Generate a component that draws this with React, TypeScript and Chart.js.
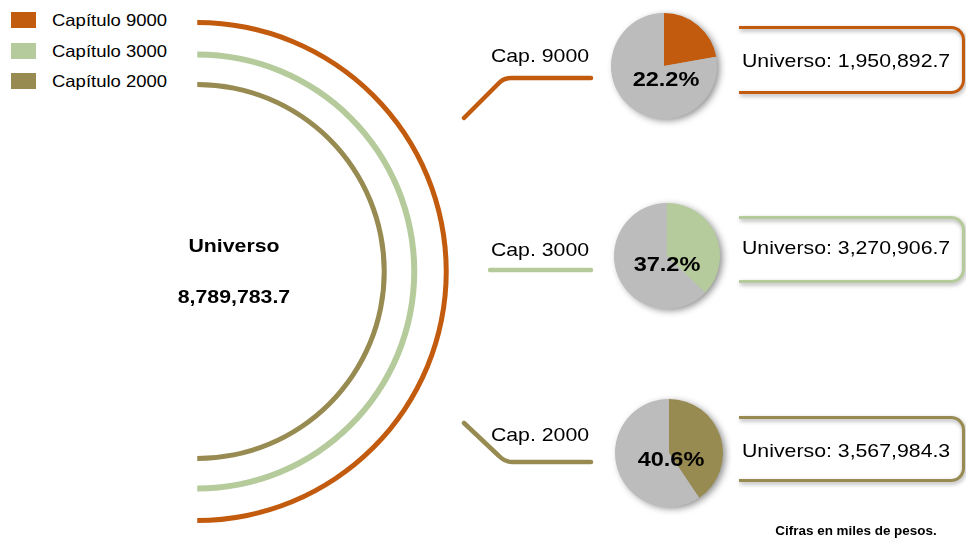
import React, { useEffect, useRef } from 'react';
import { Chart, registerables } from 'chart.js';

Chart.register(...registerables);

// ---------- data ----------
const chapterNames = ['Capítulo 9000', 'Capítulo 3000', 'Capítulo 2000'];
const capLabels = ['Cap. 9000', 'Cap. 3000', 'Cap. 2000'];
const universoValues = [1950892.7, 3270906.7, 3567984.3];
const universoTotal = 8789783.7;
const sharePct = [22.2, 37.2, 40.6];
const chapterColors = ['#C25B0E', '#B5CB9B', '#978B52'];
const remainderColor = '#BCBCBC';
const totalTitle = 'Universo';
const footnote = 'Cifras en miles de pesos.';

// ---------- layout ----------
const FONT = '"Liberation Sans", Arial, Helvetica, sans-serif';
const SX = 1.12;
const ringWidths = [5, 6, 5];
const ringGaps = [26.5, 24.5];
const ringInner = 184.5;
const ringOuter = 251.5;
const pieBoxes = [
  { left: 601, top: 3, size: 126, pad: 10 },
  { left: 604, top: 193, size: 126, pad: 10 },
  { left: 606, top: 390, size: 126, pad: 9 },
];
const capLabelY = [55, 249, 434];
const pctPos = [
  [666, 78],
  [667, 263],
  [671, 458],
];
const bracketBoxes = [
  { top: 26, height: 68, textY: 60 },
  { top: 216, height: 67, textY: 247 },
  { top: 416, height: 66, textY: 450 },
];
const connectorPaths = [
  'M464,118 L499,83 Q504,78 511,78 L591,78',
  'M490,270 L591,270',
  'M464,423 L499,456 Q505,462 512,462 L591,462',
];

const fmt = (v: number) =>
  v.toLocaleString('en-US', { minimumFractionDigits: 1, maximumFractionDigits: 1 });

function Label(props: {
  x: number;
  y: number;
  text: string;
  size: number;
  bold?: boolean;
  align?: 'left' | 'center';
}) {
  const { x, y, text, size, bold, align = 'left' } = props;
  const center = align === 'center';
  return (
    <div
      style={{
        position: 'absolute',
        left: x,
        top: y,
        transform: `translate(${center ? '-50%' : '0'}, -50%) scaleX(${SX})`,
        transformOrigin: center ? 'center center' : 'left center',
        whiteSpace: 'nowrap',
        fontSize: size,
        lineHeight: 1,
        fontWeight: bold ? 'bold' : 'normal',
        color: '#000',
        fontFamily: FONT,
      }}
    >
      {text}
    </div>
  );
}

function ArcsChart() {
  const ref = useRef<HTMLCanvasElement>(null);
  useEffect(() => {
    if (!ref.current) return;
    const datasets: any[] = [];
    chapterNames.forEach((name, i) => {
      datasets.push({
        label: name,
        data: [1],
        backgroundColor: chapterColors[i],
        borderWidth: 0,
        weight: ringWidths[i],
      });
      if (i < ringGaps.length) {
        datasets.push({
          label: 'gap' + i,
          data: [1],
          backgroundColor: 'rgba(0,0,0,0)',
          borderWidth: 0,
          weight: ringGaps[i],
        });
      }
    });
    const chart = new Chart(ref.current, {
      type: 'doughnut',
      data: { labels: [totalTitle], datasets },
      options: {
        responsive: false,
        animation: false,
        events: [],
        circumference: 180,
        rotation: 0,
        cutout: (ringInner / ringOuter) * 100 + '%',
        layout: { padding: 0 },
        plugins: { legend: { display: false }, tooltip: { enabled: false } },
      },
    });
    return () => chart.destroy();
  }, []);
  return (
    <canvas
      ref={ref}
      width={252}
      height={503}
      style={{ position: 'absolute', left: 197, top: 20 }}
    />
  );
}

const pieShadow = {
  id: 'pieShadow',
  beforeDatasetsDraw(chart: any) {
    const arc: any = chart.getDatasetMeta(0).data[0];
    if (!arc) return;
    const ctx = chart.ctx;
    ctx.save();
    ctx.shadowColor = 'rgba(0,0,0,0.45)';
    ctx.shadowBlur = 7;
    ctx.shadowOffsetX = 3;
    ctx.shadowOffsetY = 2;
    ctx.fillStyle = remainderColor;
    ctx.beginPath();
    ctx.arc(arc.x, arc.y, arc.outerRadius - 0.5, 0, Math.PI * 2);
    ctx.fill();
    ctx.restore();
  },
};

function SharePie({ index }: { index: number }) {
  const ref = useRef<HTMLCanvasElement>(null);
  const box = pieBoxes[index];
  useEffect(() => {
    if (!ref.current) return;
    const chart = new Chart(ref.current, {
      type: 'pie',
      data: {
        labels: [chapterNames[index], 'Resto'],
        datasets: [
          {
            data: [sharePct[index], 100 - sharePct[index]],
            backgroundColor: [chapterColors[index], remainderColor],
            borderWidth: 0,
          },
        ],
      },
      options: {
        responsive: false,
        animation: false,
        events: [],
        rotation: 0,
        layout: { padding: box.pad },
        plugins: { legend: { display: false }, tooltip: { enabled: false } },
      },
      plugins: [pieShadow],
    });
    return () => chart.destroy();
  }, [index]);
  return (
    <canvas
      ref={ref}
      width={box.size}
      height={box.size}
      style={{ position: 'absolute', left: box.left, top: box.top }}
    />
  );
}

export default function App() {
  return (
    <div
      style={{
        position: 'absolute',
        left: 0,
        top: 0,
        width: 966,
        height: 540,
        overflow: 'hidden',
        background: '#fff',
        fontFamily: FONT,
      }}
    >
      {/* legend */}
      {chapterNames.map((name, i) => (
        <React.Fragment key={name}>
          <div
            style={{
              position: 'absolute',
              left: 11,
              top: [12, 43, 73][i],
              width: 25,
              height: 16,
              background: chapterColors[i],
            }}
          />
          <Label x={52} y={[20, 51, 81][i]} text={name} size={16.5} />
        </React.Fragment>
      ))}

      <ArcsChart />

      <Label x={234} y={244.5} text={totalTitle} size={19} bold align="center" />
      <Label x={234} y={295.5} text={fmt(universoTotal)} size={19} bold align="center" />

      <svg
        width={966}
        height={540}
        style={{ position: 'absolute', left: 0, top: 0 }}
      >
        {connectorPaths.map((d, i) => (
          <path
            key={i}
            d={d}
            fill="none"
            stroke={chapterColors[i]}
            strokeWidth={4.5}
            strokeLinecap="round"
            strokeLinejoin="round"
          />
        ))}
      </svg>

      {capLabels.map((t, i) => (
        <Label key={t} x={540} y={capLabelY[i]} text={t} size={19} align="center" />
      ))}

      {sharePct.map((p, i) => (
        <SharePie key={'pie' + i} index={i} />
      ))}
      {sharePct.map((p, i) => (
        <Label
          key={'pct' + i}
          x={pctPos[i][0]}
          y={pctPos[i][1]}
          text={p.toFixed(1) + '%'}
          size={21}
          bold
          align="center"
        />
      ))}

      {bracketBoxes.map((b, i) => (
        <React.Fragment key={'br' + i}>
          <div
            style={{
              position: 'absolute',
              left: 739,
              top: b.top,
              width: 226,
              height: b.height,
              boxSizing: 'border-box',
              border: `3px solid ${chapterColors[i]}`,
              borderLeft: 'none',
              borderRadius: '0 14px 14px 0',
              filter: 'drop-shadow(1px 2px 2px rgba(0,0,0,0.35))',
            }}
          />
          <Label
            x={742}
            y={b.textY}
            text={'Universo: ' + fmt(universoValues[i])}
            size={19}
          />
        </React.Fragment>
      ))}

      <Label x={856} y={531} text={footnote} size={12} bold align="center" />
    </div>
  );
}
